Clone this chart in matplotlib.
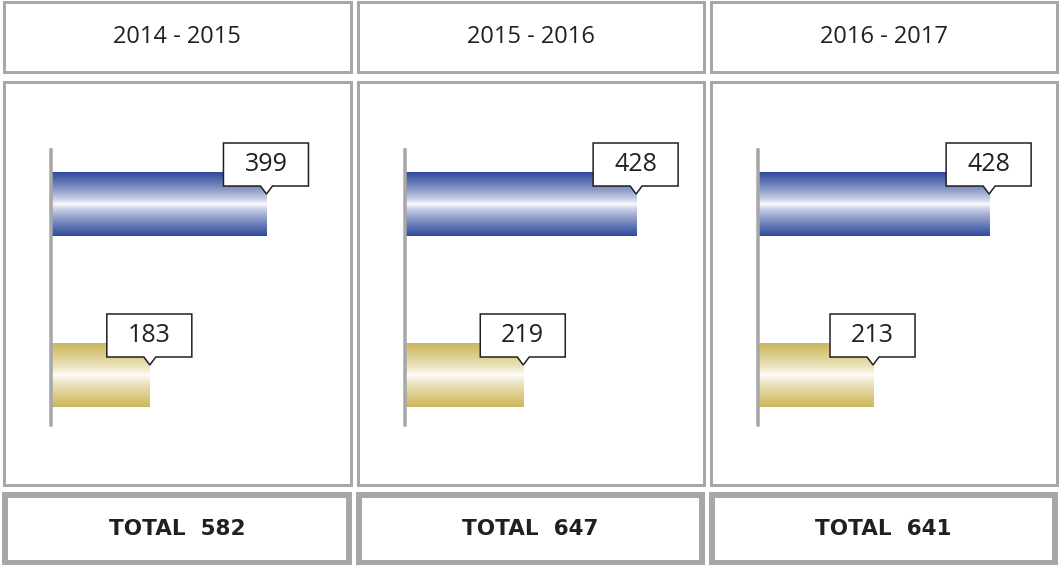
import numpy as np
import matplotlib.pyplot as plt
from matplotlib.patches import Rectangle, Polygon
from matplotlib.colors import to_rgb

periods = ["2014 - 2015", "2015 - 2016", "2016 - 2017"]
blue_vals = [399, 428, 428]
gold_vals = [183, 219, 213]
totals = [582, 647, 641]

W, H = 1059, 565
GRAY = "#a6a7aa"
BLUE = "#2f4a9b"
GOLD = "#cdb75a"
INK = "#231f20"
PX = 0.72  # points per pixel at dpi 100

fig = plt.figure(figsize=(W / 100, H / 100), dpi=100)
bg = fig.add_axes([0, 0, 1, 1])
bg.set_xlim(0, W)
bg.set_ylim(H, 0)
bg.axis("off")

panels = [(2, 352), (356, 705), (709, 1058)]


def box(ax, x0, x1, y0, y1, lw_px):
    h = lw_px / 2
    ax.add_patch(Rectangle((x0 + h, y0 + h), x1 - x0 - lw_px, y1 - y0 - lw_px,
                           fill=False, ec=GRAY, lw=lw_px * PX))


for i, (x0, x1) in enumerate(panels):
    box(bg, x0, x1, 0, 73, 3)
    box(bg, x0, x1, 80, 486, 3)
    box(bg, x0, x1, 492, 566, 6)
    cx = (x0 + x1) / 2
    bg.text(cx, 37, periods[i], ha="center", va="center", fontsize=17,
            family="Open Sans", color=INK)
    bg.text(cx, 529, "TOTAL  %d" % totals[i], ha="center", va="center",
            fontsize=15.5, family="DejaVu Sans", fontweight="bold", color=INK)


def grad(color, n=200):
    c = np.array(to_rgb(color))
    t = np.abs(np.linspace(-1, 1, n))[:, None] ** 0.75
    img = (1 - t) * np.ones(3) + t * c
    return img[:, None, :]


# bar axes: y pixel range 130..440, category 0 at 204, 1 at 375
y_top, y_bot = 130, 440
c0, c1 = 204, 375
unit = c1 - c0
scale = 0.54  # px per value
ax_w = 290
bar_h = 64 / unit

overlay = fig.add_axes([0, 0, 1, 1], zorder=5)
overlay.set_xlim(0, W)
overlay.set_ylim(H, 0)
overlay.axis("off")

for i, (x0, x1) in enumerate(panels):
    left = x0 + 49
    ax = fig.add_axes([left / W, 1 - y_bot / H, ax_w / W, (y_bot - y_top) / H])
    vals = [blue_vals[i], gold_vals[i]]
    cols = [BLUE, GOLD]
    bars = ax.barh([0, 1], vals, height=bar_h, color="none")
    for b, c in zip(bars, cols):
        ax.imshow(grad(c), extent=(0, b.get_width(), b.get_y() + b.get_height(), b.get_y()),
                  aspect="auto", interpolation="bilinear", zorder=2)
    ax.set_xlim(0, ax_w / scale)
    ax.set_ylim((y_bot - c0) / unit, (y_top - c0) / unit)
    for s in ["top", "right", "bottom"]:
        ax.spines[s].set_visible(False)
    ax.spines["left"].set_color(GRAY)
    ax.spines["left"].set_linewidth(3.5 * PX)
    ax.spines["left"].set_bounds((150 - c0) / unit, (425 - c0) / unit)
    ax.set_xticks([])
    ax.set_yticks([])
    ax.patch.set_alpha(0)

    # callouts
    for b in bars:
        tip_disp = ax.transData.transform((b.get_width(), b.get_y()))
        tx = tip_disp[0]
        ty = H - tip_disp[1] + 22
        bx0, bx1 = tx - 43, tx + 42
        by0, by1 = ty - 51, ty - 8
        poly = [(bx0, by0), (bx1, by0), (bx1, by1), (tx + 6, by1), (tx, ty),
                (tx - 6, by1), (bx0, by1)]
        overlay.add_patch(Polygon(poly, closed=True, fc="white", ec=INK,
                                  lw=1.1, joinstyle="miter"))
        overlay.text((bx0 + bx1) / 2, (by0 + by1) / 2, str(int(b.get_width())),
                     ha="center", va="center", fontsize=18, family="Open Sans",
                     color=INK)

fig.savefig("out.png", dpi=100)
